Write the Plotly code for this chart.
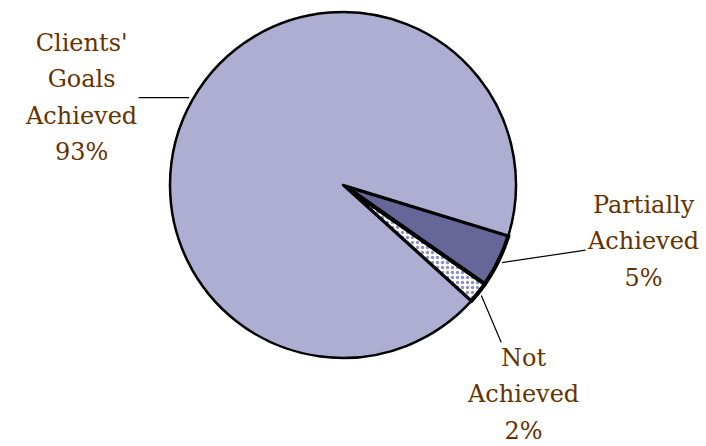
import math
import plotly.graph_objects as go

labels = ["Partially<br>Achieved", "Not<br>Achieved", "Clients'<br>Goals<br>Achieved"]
values = [5, 2, 93]
slice_colors = ["#666699", "#ffffff", "#aeaed2"]
label_offsets = [(141, -21), (42, 99), (-108, 0)]  # text offset in px from leader anchor

W, H = 706, 446
cx, cy, R = 343, 185, 173
rotation = 107

dom_x = [(cx - R) / W, (cx + R) / W]
dom_y = [(H - (cy + R)) / H, (H - (cy - R)) / H]

fig = go.Figure(go.Pie(
    labels=[l.replace("<br>", " ") for l in labels],
    values=values,
    sort=False,
    direction="clockwise",
    rotation=rotation,
    textinfo="none",
    hoverinfo="label+percent",
    domain=dict(x=dom_x, y=dom_y),
    marker=dict(
        colors=slice_colors,
        line=dict(color="#000000", width=[4, 4, 2.5]),
        pattern=dict(
            shape=["", ".", ""],
            fgcolor=["#666699", "#8f8fc8", "#aeaed2"],
            bgcolor=["#666699", "#ffffff", "#aeaed2"],
            size=[8, 5, 8],
            solidity=[0.2, 0.35, 0.2],
            fillmode="replace",
        ),
    ),
    showlegend=False,
))

total = sum(values)
annotations = []
start = rotation
for lab, v, (ox, oy) in zip(labels, values, label_offsets):
    span = 360 * v / total
    mid = start + span / 2
    start += span
    a = math.radians(mid)
    px = cx + (R + 4) * math.sin(a)
    py = cy - (R + 4) * math.cos(a)
    lines = f"{lab}<br>{v}%".split("<br>")
    text = "<br>".join(f"<span style='font-size:24px'>{ln}</span>" for ln in lines)
    annotations.append(dict(
        x=px / W, y=(H - py) / H, xref="paper", yref="paper",
        text=text,
        showarrow=True, arrowhead=0, arrowwidth=1.2, arrowcolor="#000000",
        ax=ox, ay=oy, standoff=0,
        font=dict(family="DejaVu Serif", size=28, color="#663300"),
        align="center",
    ))

fig.update_layout(
    width=W, height=H,
    margin=dict(l=0, r=0, t=0, b=0),
    paper_bgcolor="#ffffff",
    plot_bgcolor="#ffffff",
    annotations=annotations,
)

fig.write_html("out.html", config={"displayModeBar": False},
               post_script="document.body.style.margin='0';")
